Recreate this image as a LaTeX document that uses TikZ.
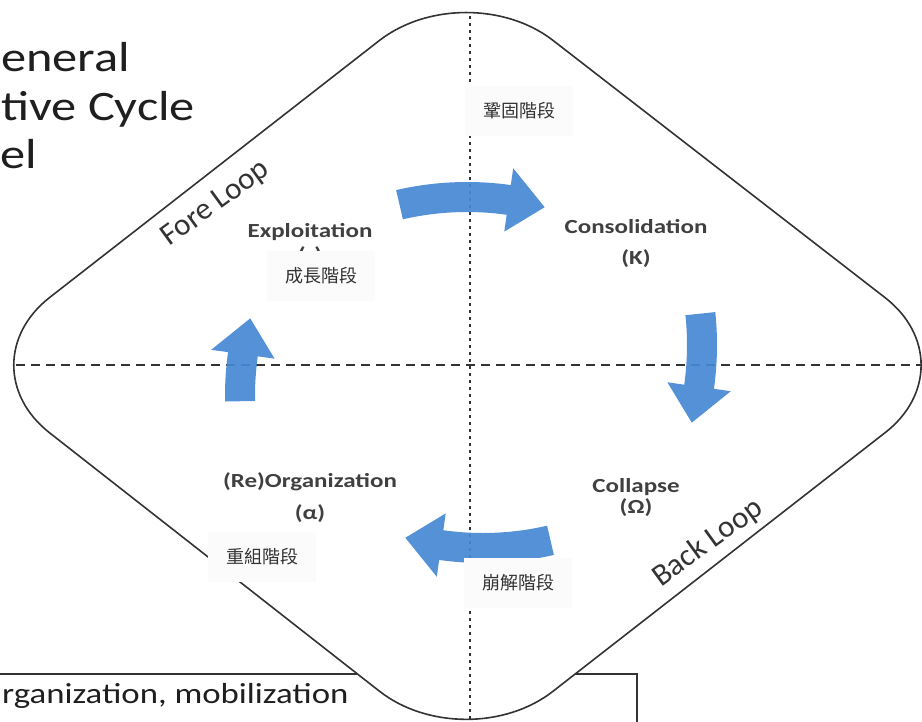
\documentclass[tikz,border=0pt]{standalone}
\usepackage{fontspec}
\setmainfont{Carlito}
\newfontfamily\labelfont[FakeStretch=1.25]{Carlito}
\newfontfamily\titlefont[FakeStretch=1.2]{Carlito}
\newfontfamily\cjkfont{Noto Sans CJK TC}
\usetikzlibrary{calc}

\definecolor{arrowblue}{RGB}{70,136,212}
\definecolor{inkgrey}{RGB}{51,51,51}
\definecolor{labelgrey}{RGB}{64,64,64}
\definecolor{notefill}{RGB}{251,251,251}

% curved block arrow: #1 placement, #2 tail angle
\newcommand\cyclearrow[2]{%
  \fill[arrowblue, fill opacity=0.92, #1, shift={(0,300)}]
    (#2:315) arc[start angle=#2, end angle=-82, radius=315]
    -- (-82:332) -- (-75:300) -- (-82:268) -- (-82:285)
    arc[start angle=-82, end angle=#2, radius=285] -- cycle;}

\begin{document}
\begin{tikzpicture}[x=1pt,y=-1pt,
  frame/.style={draw=inkgrey,line width=1.6pt},
  axis/.style={draw=inkgrey,line width=2.8pt},
  stage/.style={font=\labelfont\bfseries\fontsize{20}{24}\selectfont,text=labelgrey,inner sep=1pt},
  loop label/.style={font=\fontsize{31}{36}\selectfont,text=inkgrey,rotate=36},
  phase/.style={fill=notefill,font=\cjkfont\fontsize{18}{22}\selectfont,text=inkgrey,minimum width=108pt,minimum height=50pt},
  title/.style={anchor=base west,inner sep=0pt,font=\titlefont\fontsize{42}{50}\selectfont,text=black!88}]

  \useasboundingbox (0,0) rectangle (922,721);
  \clip (0,0) rectangle (922,721);

  % title, cut at the left edge
  \node[title] (title1) at (1,71) {eneral};
  \node[title] (title2) at (1,120) {tive Cycle};
  \node[title] (title3) at (0,168) {el};

  % note box below
  \draw[frame,line width=1.3pt] (-5,674) rectangle (637,740);
  \node[title,font=\titlefont\fontsize{29}{34}\selectfont] (note) at (2,703) {rganization, mobilization};

  % rounded diamond
  \coordinate (L) at (-37,365);
  \coordinate (T) at (466,-27);
  \coordinate (R) at (972,365);
  \coordinate (B) at (466,759);
  \draw[frame,fill=white,rounded corners=110pt]
    ($(L)!0.5!(T)$) -- (T) -- (R) -- (B) -- (L) -- cycle;

  % axes
  \coordinate (top) at (470,16);
  \coordinate (bottom) at (470,721);
  \coordinate (left) at (16,365);
  \coordinate (right) at (922,365);
  \draw[axis,dash pattern=on 3pt off 4pt] (top) -- (bottom);
  \draw[axis,line width=2.4pt,dash pattern=on 9pt off 6pt] (left) -- (right);

  % cycle arrows
  \cyclearrow{shift={(467,197)}}{-103}
  \cyclearrow{shift={(702,345)},rotate=-90}{-96}
  \cyclearrow{shift={(483,548)},rotate=180}{-103}
  \cyclearrow{shift={(240,396)},rotate=90}{-91}

  % stages
  \node[stage] (exploit) at (310,232) {Exploitation};
  \node[stage] (r) at (310,256) {(r)};
  \node[stage] (consol) at (636,227) {Consolidation};
  \node[stage] (K) at (636,259) {(K)};
  \node[stage] (reorg) at (310,482) {(Re)Organization};
  \node[stage] (alpha) at (310,514) {(α)};
  \node[stage] (collapse) at (636,487) {Collapse};
  \node[stage] (omega) at (636,508) {(Ω)};

  \node[loop label] (fore) at (216,204) {Fore Loop};
  \node[loop label] (back) at (708,543) {Back Loop};

  % chinese phase names
  \node[phase] (growth) at (321,276) {成長階段};
  \node[phase] (conserve) at (519,111) {鞏固階段};
  \node[phase] (reorgcn) at (262,557) {重組階段};
  \node[phase] (collapsecn) at (518,583) {崩解階段};

\end{tikzpicture}
\end{document}
